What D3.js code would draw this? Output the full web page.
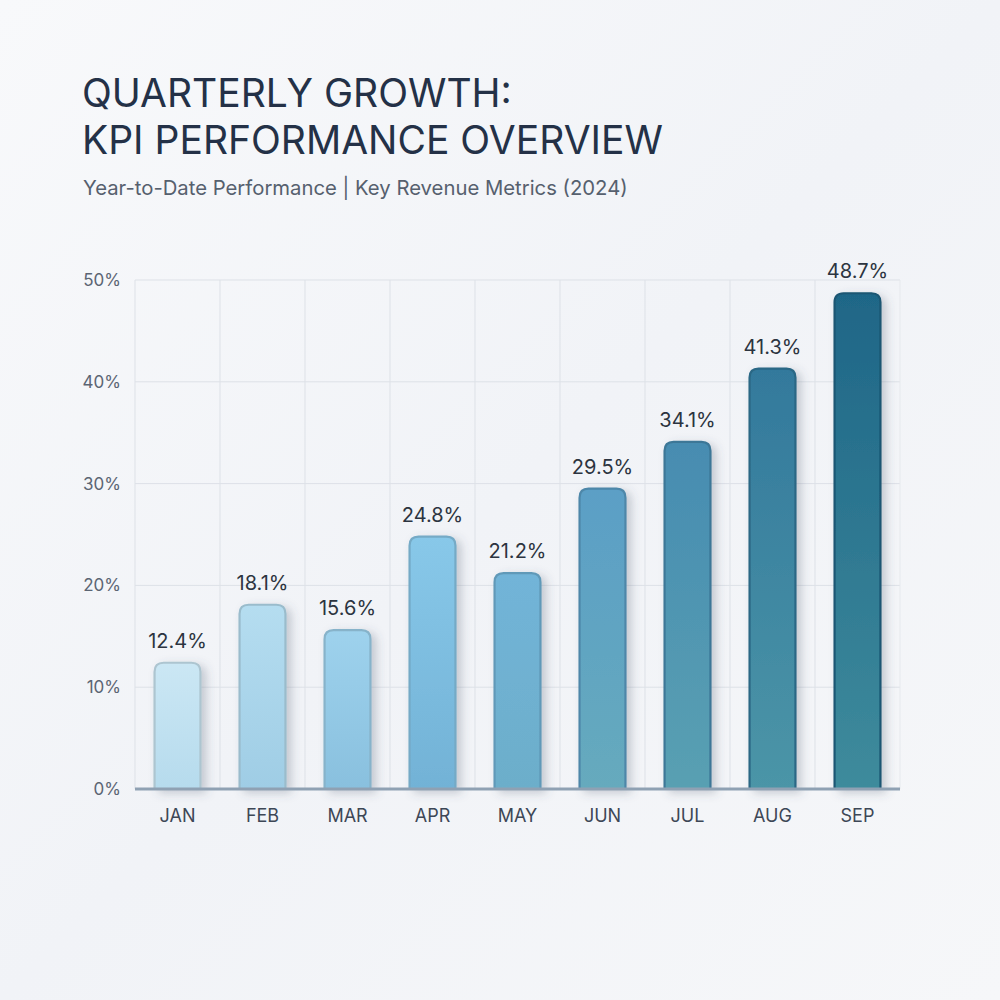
<!DOCTYPE html>
<meta charset="utf-8">
<body style="margin:0;">
<svg width="1000" height="1000"></svg>
<script src="https://d3js.org/d3.v7.min.js"></script>
<script>

var months = ["JAN", "FEB", "MAR", "APR", "MAY", "JUN", "JUL", "AUG", "SEP"];
var growth = [12.4, 18.1, 15.6, 24.8, 21.2, 29.5, 34.1, 41.3, 48.7];
var yTicks = [0, 10, 20, 30, 40, 50];

var svg = d3.select("svg");
var defs = svg.append("defs");

// soft page background
var bg = defs.append("linearGradient").attr("id", "bg")
			.attr("x1", 0).attr("y1", 0).attr("x2", 1).attr("y2", 1);
bg.append("stop").attr("offset", "0%").attr("stop-color", "#f8f9fb");
bg.append("stop").attr("offset", "50%").attr("stop-color", "#f1f3f7");
bg.append("stop").attr("offset", "100%").attr("stop-color", "#f6f7f9");
svg.append("rect").attr("width", 1000).attr("height", 1000).attr("fill", "url(#bg)");

var shadow = defs.append("filter").attr("id", "shadow")
			.attr("x", "-30%").attr("y", "-10%").attr("width", "180%").attr("height", "130%");
shadow.append("feDropShadow").attr("dx", 5).attr("dy", 3).attr("stdDeviation", 5)
			.attr("flood-color", "#4a5a70").attr("flood-opacity", 0.28);

// titles
var font = "Inter, 'Noto Sans', sans-serif";
svg.append("text").attr("x", 82).attr("y", 107)
	.style("font-family", font).style("font-size", "39px").style("font-weight", 400)
	.attr("fill", "#243147").text("QUARTERLY GROWTH:");
svg.append("text").attr("x", 82).attr("y", 154)
	.style("font-family", font).style("font-size", "39px").style("font-weight", 400)
	.attr("fill", "#243147").text("KPI PERFORMANCE OVERVIEW");
svg.append("text").attr("x", 83).attr("y", 195)
	.style("font-family", font).style("font-size", "20.3px").style("font-weight", 400)
	.attr("fill", "#56606e").text("Year-to-Date Performance | Key Revenue Metrics (2024)");

var margin = {left: 135, right: 100, top: 280, bottom: 211};
var width = 1000 - margin.left - margin.right;
var height = 1000 - margin.top - margin.bottom;

var x = d3.scaleBand().domain(months).range([0, width]).paddingInner(0.46).paddingOuter(0.23);
var xGrid = d3.scaleBand().domain(months).range([0, width]);
var y = d3.scaleLinear().domain([0, 50]).range([height, 0]);

var topColor = d3.scaleLinear().domain([0, 3, 5, 8])
	.range(["#cbe7f4", "#88c8e9", "#5b9fc6", "#1f6687"]).interpolate(d3.interpolateRgb);
var bottomColor = d3.scaleLinear().domain([0, 3, 5, 8])
	.range(["#b6dbed", "#72b2d6", "#66aabd", "#3e8b9c"]).interpolate(d3.interpolateRgb);

var chart = svg.append("g").attr("transform", "translate(" + margin.left + "," + margin.top + ")");

// grid
var grid = chart.append("g");
grid.selectAll(".hg").data(yTicks).enter().append("line")
	.attr("x1", 0).attr("x2", width)
	.attr("y1", function(d) { return y(d); }).attr("y2", function(d) { return y(d); })
	.attr("stroke", "#dde1e7").attr("stroke-width", 1);
grid.selectAll(".vg").data(months).enter().append("line")
	.attr("x1", function(d) { return xGrid(d); }).attr("x2", function(d) { return xGrid(d); })
	.attr("y1", 0).attr("y2", height)
	.attr("stroke", "#dde1e7").attr("stroke-width", 1);
grid.append("line").attr("x1", width).attr("x2", width).attr("y1", 0).attr("y2", height)
	.attr("stroke", "#e6e9ed");

// y axis labels
var yAxis = chart.append("g").call(d3.axisLeft(y).tickValues(yTicks)
	.tickFormat(function(d) { return d + "%"; }).tickSize(0).tickPadding(14));
yAxis.select(".domain").remove();
yAxis.selectAll("text").style("font-family", font).style("font-size", "17px").attr("fill", "#5b6573");

// bars
months.forEach(function(m, i) {
	var g = defs.append("linearGradient").attr("id", "bar" + i)
		.attr("x1", 0).attr("y1", 0).attr("x2", 0).attr("y2", 1);
	g.append("stop").attr("offset", "0%").attr("stop-color", topColor(i));
	g.append("stop").attr("offset", "100%").attr("stop-color", bottomColor(i));
});

function barPath(d, i) {
	var x0 = x(months[i]), w = x.bandwidth(), y0 = y(d), y1 = y(0), r = 9;
	return "M" + x0 + "," + y1 + "V" + (y0 + r) + "Q" + x0 + "," + y0 + " " + (x0 + r) + "," + y0 +
		"H" + (x0 + w - r) + "Q" + (x0 + w) + "," + y0 + " " + (x0 + w) + "," + (y0 + r) + "V" + y1 + "Z";
}

chart.append("g").selectAll("path").data(growth).enter().append("path")
	.attr("d", barPath)
	.attr("fill", function(d, i) { return "url(#bar" + i + ")"; })
	.attr("stroke", function(d, i) { return d3.color(topColor(i)).darker(0.45); })
	.attr("stroke-width", 2.2)
	.attr("filter", "url(#shadow)");

// value labels
chart.append("g").selectAll("text").data(growth).enter().append("text")
	.attr("x", function(d, i) { return x(months[i]) + x.bandwidth() / 2; })
	.attr("y", function(d) { return y(d) - 15; })
	.attr("text-anchor", "middle")
	.style("font-family", font).style("font-size", "20px")
	.attr("fill", "#2c3440")
	.text(function(d) { return d.toFixed(1) + "%"; });

// baseline
chart.append("line").attr("x1", 0).attr("x2", width).attr("y1", y(0)).attr("y2", y(0))
	.attr("stroke", "#8fa1b3").attr("stroke-width", 3);

// x axis labels
var xAxis = chart.append("g").attr("transform", "translate(0," + height + ")")
	.call(d3.axisBottom(x).tickSize(0).tickPadding(20));
xAxis.select(".domain").remove();
xAxis.selectAll("text").style("font-family", font).style("font-size", "18px").attr("fill", "#3d4756");

</script>
</body>
